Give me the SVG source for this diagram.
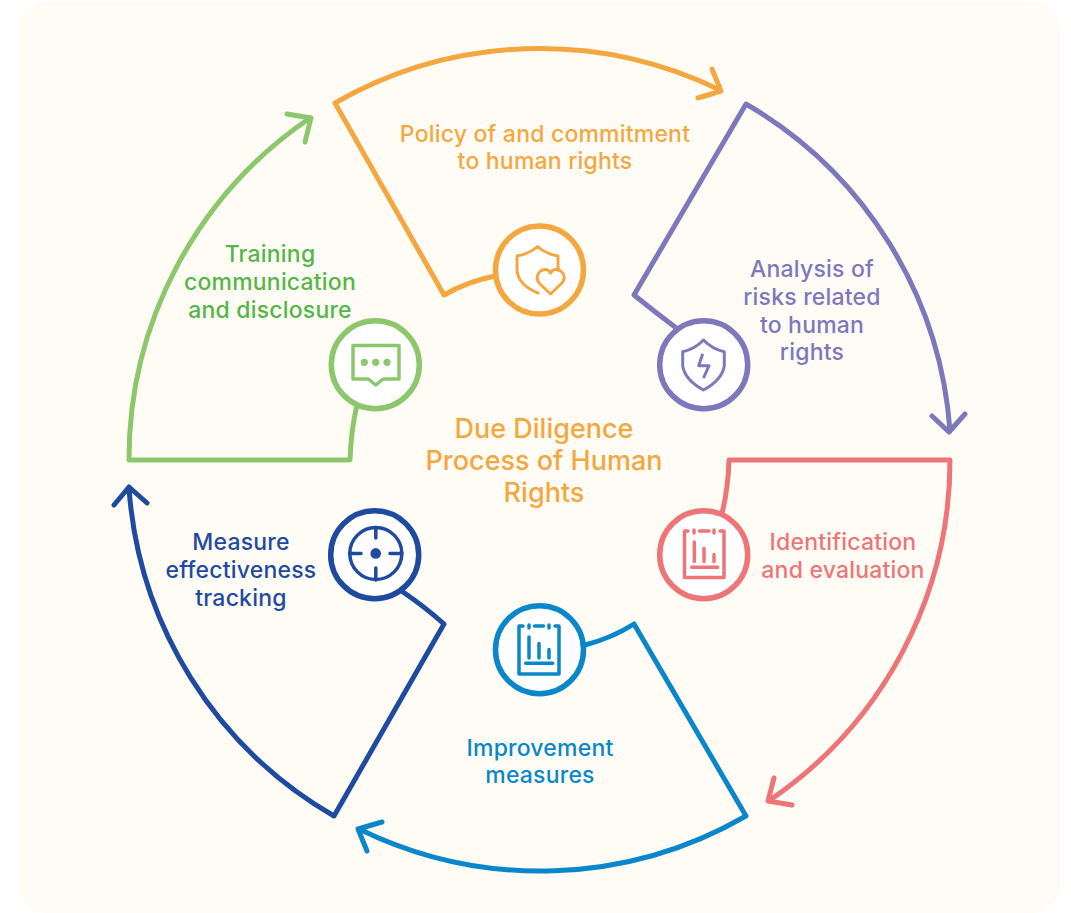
<svg xmlns="http://www.w3.org/2000/svg" width="1071" height="913" viewBox="0 0 1071 913">
<style>
.t{font-family:"Inter","Liberation Sans",sans-serif;font-size:23px;font-weight:500;text-anchor:middle;letter-spacing:.2px}
.s{fill:none;stroke-width:5;stroke-linecap:round;stroke-linejoin:round}
.c{fill:#fff;stroke-width:5.500}
.i{fill:none;stroke-width:3;stroke-linecap:round;stroke-linejoin:round}
.b{fill:none;stroke-width:3.500;stroke-linecap:round;stroke-linejoin:round}
</style>
<rect width="1071" height="913" fill="#fff"/>
<rect x="19" y="2" width="1041" height="911" rx="28" fill="#fffcf6"/>
<g id="connectors">
<path class="s" stroke="#f5a73f" d="M495 276Q466 282 444 295L335 103A412 412 0 0 1 720 90M712 69L721 91L698 98"/>
<path class="s" stroke="#7d78bb" d="M675 327Q655 312 634 295L746 104A412 412 0 0 1 950 431M932 416L949 432L965 414"/>
<path class="s" stroke="#ee7577" d="M722 513Q728 490 729 460L950 460A411 411 0 0 1 770 800M774 778L768 801L792 805"/>
<path class="s" stroke="#0a87ca" d="M585 645Q612 638 634 624L746 816A412 412 0 0 1 359 829M382 822L358 829L367 851"/>
<path class="s" stroke="#1e4a9f" d="M403 592Q425 607 444 624L334 816A412 412 0 0 1 129 488M114 505L129 487L147 503"/>
<path class="s" stroke="#8cc76b" d="M357 405Q351 430 350 460L129 460A412 412 0 0 1 310 118M287 114L311 118L305 142"/>
</g>
<g id="policy"><circle class="c" stroke="#f5a73f" cx="539.500" cy="270" r="44"/><path class="i" stroke="#f5a73f" d="M558 270V256Q546 254 537.500 246.500Q529 254 517 256V270Q518 285 538 293"/><path class="i" stroke="#f5a73f" d="M550.500 294L540 284C531 274 546 264 550.500 273C555 264 571 274 561 284Z"/></g>
<g id="analysis"><circle class="c" stroke="#7d78bb" cx="703.700" cy="364.700" r="44"/><path class="i" stroke="#7d78bb" d="M703.500 340Q695 349 682.700 351.700V366Q685 380 703.500 390Q722 380 724.300 366V351.700Q712 349 703.500 340Z"/><path class="i" stroke="#7d78bb" d="M702.300 355L698.700 365.700H709L704 377"/></g>
<g id="identification"><circle class="c" stroke="#ee7577" cx="703.700" cy="554.700" r="44"/><path class="b" stroke="#ee7577" d="M688 531H684.500V577.500H724V531H720M694 530V533M699.500 531H709M714 530V533M694.300 542V561.500M704 548.500V561.500M714 554.500V561.500M691.700 567.300H717.700"/></g>
<g id="improvement"><circle class="c" stroke="#0a87ca" cx="539.500" cy="649.700" r="44"/><path class="b" stroke="#0a87ca" d="M523 626H519V674H559V626H555M529 625V628M534.500 626H543.500M549 625V628M529 637V658M539 643.500V658M549 649.500V658M525.700 663.300H552.700"/></g>
<g id="measure"><circle class="c" stroke="#1e4a9f" cx="374.700" cy="554.700" r="44"/><circle class="b" stroke="#1e4a9f" cx="375.800" cy="553.500" r="26"/><path class="b" stroke="#1e4a9f" d="M375.800 527.500V538M375.800 568V580M349.500 553.500H361M390 553.500H402"/><circle cx="375.700" cy="553.400" r="5.300" fill="#1e4a9f"/></g>
<g id="training"><circle class="c" stroke="#8cc76b" cx="375.300" cy="364.700" r="44"/><path class="b" stroke="#8cc76b" d="M353 345.500H399V379H383.300L375.700 385L368.300 379H353Z"/><circle cx="364.300" cy="362.300" r="3.600" fill="#8cc76b"/><circle cx="375.700" cy="362.300" r="3.600" fill="#8cc76b"/><circle cx="387" cy="362.300" r="3.600" fill="#8cc76b"/></g>
<g class="t">
<text x="545" y="142" fill="#f5a73f">Policy of and commitment</text><text x="545" y="169" fill="#f5a73f">to human rights</text>
<text x="812" y="277" fill="#7d78bb">Analysis of</text><text x="812" y="305" fill="#7d78bb">risks related</text><text x="812" y="333" fill="#7d78bb">to human</text><text x="812" y="360" fill="#7d78bb">rights</text>
<text x="843" y="550" fill="#ee7577">Identification</text><text x="843" y="578" fill="#ee7577">and evaluation</text>
<text x="540" y="756" fill="#0a87ca">Improvement</text><text x="540" y="783" fill="#0a87ca">measures</text>
<text x="241" y="550" fill="#1e4a9f">Measure</text><text x="241" y="578" fill="#1e4a9f">effectiveness</text><text x="241" y="606" fill="#1e4a9f">tracking</text>
<text x="270" y="262" fill="#55b648">Training</text><text x="270" y="290" fill="#55b648">communication</text><text x="270" y="318" fill="#55b648">and disclosure</text>
<g style="font-size:27px;font-weight:450;letter-spacing:0" fill="#f5a73f"><text x="544" y="438">Due Diligence</text><text x="544" y="470">Process of Human</text><text x="544" y="502">Rights</text></g>
</g>
</svg>
